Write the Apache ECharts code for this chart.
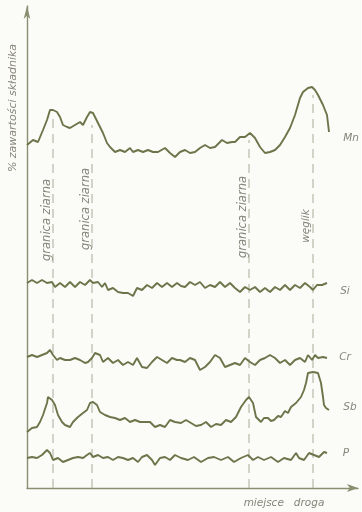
<!DOCTYPE html>
<html>
<head>
<meta charset="utf-8">
<script src="https://cdn.jsdelivr.net/npm/echarts@6/dist/echarts.min.js"></script>
<style>
html,body{margin:0;padding:0;background:#fbfbf8;}
#chart{width:362px;height:512px;}
</style>
</head>
<body>
<div id="chart"></div>
<script>
// distance along the scan (x) and relative content (y)
const mn = [[0,343],[6,348],[11,346],[16,358],[20,368],[23,378],[26,378],[30,376],[33,371],[36,363],[40,361],[43,360],[48,363],[53,366],[56,363],[60,371],[63,376],[66,375],[71,365],[76,355],[80,345],[83,341],[88,336],[93,338],[98,336],[103,340],[106,336],[111,338],[116,336],[121,338],[126,336],[131,336],[138,340],[143,335],[148,331],[153,336],[158,338],[163,335],[168,336],[173,340],[178,343],[183,340],[188,341],[195,348],[200,345],[205,346],[208,346],[213,351],[218,351],[223,355],[228,350],[233,341],[238,335],[243,336],[248,338],[253,343],[258,351],[263,360],[268,373],[273,390],[276,396],[281,400],[285,401],[288,398],[291,393],[296,383],[300,373],[302,356]];
const si = [[0,205],[5,208],[10,205],[15,208],[20,205],[25,206],[28,201],[33,205],[38,201],[43,206],[48,201],[53,206],[58,203],[63,208],[66,205],[71,206],[75,201],[78,205],[81,198],[86,200],[91,196],[96,195],[101,195],[106,192],[110,200],[115,198],[120,203],[125,200],[130,205],[135,201],[140,205],[145,201],[150,205],[154,202],[158,201],[163,206],[168,203],[173,206],[178,200],[183,203],[188,201],[193,206],[198,201],[203,205],[208,200],[213,196],[218,201],[223,198],[228,201],[233,196],[238,200],[243,196],[248,201],[253,198],[258,203],[263,198],[268,203],[273,200],[278,205],[283,201],[286,198],[290,203],[295,203],[300,205]];
const cr = [[0,131],[5,133],[10,131],[15,133],[20,135],[23,138],[26,133],[30,128],[33,130],[38,128],[43,128],[48,130],[53,128],[58,125],[61,126],[65,130],[68,135],[73,133],[76,126],[81,130],[86,125],[91,128],[96,123],[101,126],[106,123],[110,130],[115,121],[120,120],[125,126],[130,131],[135,128],[140,125],[145,130],[150,128],[153,128],[158,126],[163,130],[168,128],[173,118],[178,121],[183,126],[188,133],[193,130],[198,121],[203,123],[208,125],[213,123],[218,130],[223,126],[228,123],[233,128],[238,130],[243,133],[248,130],[253,125],[258,128],[263,123],[268,128],[273,130],[278,126],[281,133],[285,128],[288,133],[291,130],[296,131],[300,130]];
const sb = [[0,56],[5,60],[10,61],[13,66],[16,73],[20,85],[21,91],[25,88],[28,83],[31,73],[35,66],[38,63],[43,61],[46,66],[51,71],[56,75],[60,78],[63,85],[66,86],[70,83],[73,76],[78,73],[83,71],[88,70],[93,68],[98,70],[103,66],[108,68],[113,66],[118,66],[123,66],[128,61],[133,63],[138,61],[143,68],[148,66],[154,65],[159,68],[164,65],[169,62],[174,63],[179,66],[184,61],[189,64],[194,63],[199,68],[204,66],[209,71],[214,81],[219,88],[222,91],[226,85],[229,71],[234,66],[237,70],[241,70],[244,67],[247,68],[251,72],[254,71],[258,77],[261,75],[264,81],[269,85],[274,91],[277,98],[279,105],[281,115],[286,116],[291,115],[294,105],[296,91],[297,83],[299,80],[302,78]];
const p = [[0,30],[5,31],[10,30],[15,33],[20,38],[23,35],[26,28],[31,30],[36,26],[41,28],[46,30],[51,31],[56,30],[60,33],[63,35],[66,31],[71,33],[76,30],[81,31],[86,28],[91,31],[96,30],[101,28],[106,30],[111,26],[115,31],[120,33],[125,28],[128,23],[133,30],[138,31],[143,28],[148,33],[154,30],[161,28],[167,31],[174,26],[181,30],[187,31],[194,28],[201,31],[207,26],[214,30],[221,33],[226,28],[231,31],[237,28],[244,31],[251,26],[257,30],[264,28],[269,35],[272,30],[277,28],[282,35],[287,33],[292,31],[297,36],[300,35]];
// grain boundaries and carbide position: [x, top of dashed marker]
const boundaries = [[26,370],[65,363],[222,348],[286,393]];
const seriesNames = ['Mn','Si','Cr','Sb','P'];
const boundaryLabels = ['granica ziarna','granica ziarna','granica ziarna','węglik'];
const xTitle = 'miejsce   droga';
const yTitle = '% zawartości składnika';

const lineColor = '#6b7549';
const textColor = '#85857a';
const font = 'DejaVu Sans';

const chart = echarts.init(document.getElementById('chart'), null, {renderer:'canvas'});

const profileSeries = [mn, si, cr, sb, p].map((d, i) => ({
  name: seriesNames[i], type: 'line', data: d, symbol: 'none', smooth: false,
  lineStyle: {color: lineColor, width: 1.9}, silent: true, z: 3
}));
const dashSeries = boundaries.map(b => ({
  type: 'line', data: [[b[0], 0], [b[0], b[1]]], symbol: 'none', silent: true, z: 2,
  lineStyle: {color: '#a9ac98', width: 1, type: [9, 6]}
}));

function txt(text, x, y, rot, size) {
  return {type: 'text', x: x, y: y, rotation: rot || 0, silent: true,
    style: {text: text, x: 0, y: 0, align: 'center', verticalAlign: 'middle',
      fill: textColor, font: 'italic ' + (size || 10) + 'px "' + font + '"'}};
}

chart.setOption({
  backgroundColor: '#fbfbf8',
  animation: false,
  grid: {left: 27, right: 4, top: 6, bottom: 24},
  xAxis: {type: 'value', min: 0, max: 331, axisTick: {show: false}, axisLabel: {show: false},
    splitLine: {show: false},
    axisLine: {show: true, symbol: ['none', 'arrow'], symbolSize: [6, 11], symbolOffset: [0, 0],
      lineStyle: {color: '#8a8f72', width: 1.4}}},
  yAxis: {type: 'value', min: 0, max: 482, axisTick: {show: false}, axisLabel: {show: false},
    splitLine: {show: false},
    axisLine: {show: true, onZero: false, symbol: ['none', 'arrow'], symbolSize: [5, 13],
      lineStyle: {color: '#8a8f72', width: 1.4}}},
  series: profileSeries.concat(dashSeries),
  graphic: [
    txt(yTitle, 13, 108, Math.PI / 2, 11),
    txt(boundaryLabels[0], 47, 220, Math.PI / 2, 11.5),
    txt(boundaryLabels[1], 86, 209, Math.PI / 2, 11.5),
    txt(boundaryLabels[2], 243, 217, Math.PI / 2, 11.5),
    txt(boundaryLabels[3], 306, 226, Math.PI / 2, 10.5),
    txt(seriesNames[0], 351, 138, 0, 10.5),
    txt(seriesNames[1], 345, 291, 0, 10.5),
    txt(seriesNames[2], 345, 357, 0, 10.5),
    txt(seriesNames[3], 350, 407, 0, 10.5),
    txt(seriesNames[4], 346, 453, 0, 10.5),
    txt(xTitle, 284, 503, 0, 10.5)
  ]
});
</script>
</body>
</html>
